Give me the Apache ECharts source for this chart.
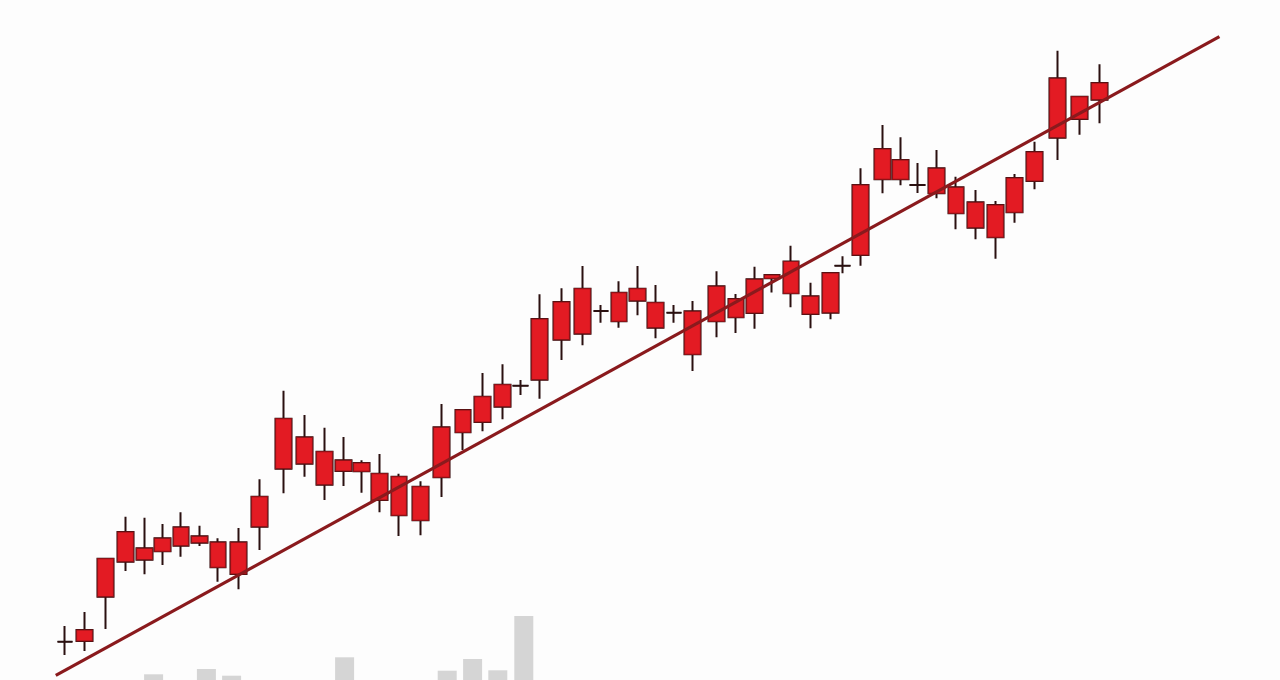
<!DOCTYPE html>
<html>
<head>
<meta charset="utf-8">
<script src="https://cdn.jsdelivr.net/npm/echarts@6/dist/echarts.min.js"></script>
<style>
html,body{margin:0;padding:0;background:#fdfdfd;}
#chart{width:1280px;height:680px;}
</style>
</head>
<body>
<div id="chart"></div>
<script>
// session positions of each candle (x axis units)
const sessions = [3.25,4.22,5.28,6.28,7.23,8.13,9.05,9.97,10.9,11.92,
  12.98,14.17,15.23,16.22,17.17,18.08,18.98,19.95,21.02,22.07,
  23.15,24.12,25.12,26.03,26.97,28.07,29.12,30.05,30.95,31.87,
  32.78,33.7,34.63,35.83,36.8,37.73,38.6,39.55,40.53,41.52,
  42.12,43.02,44.12,45.02,45.88,46.83,47.8,48.78,49.77,50.73,
  51.73,52.87,53.97,54.97];
// prices
const opens  = [3.83,3.9,8.33,11.83,12.03,12.87,13.43,13.73,11.27,10.6,
  15.33,21.13,21.63,19.53,20.9,20.87,18.0,16.47,15.97,20.27,
  24.77,25.8,27.33,29.43,30.03,34.03,34.63,36.9,35.87,37.93,
  35.23,36.73,32.57,35.87,36.27,36.7,40.17,38.67,36.6,36.73,
  41.43,42.5,50.07,50.07,49.5,48.67,46.67,45.23,44.27,46.77,
  49.9,54.23,56.1,58.03];
const closes = [3.83,5.0,12.13,14.8,13.17,14.17,15.27,14.37,13.77,13.77,
  18.33,26.13,24.27,22.83,21.97,21.7,20.63,20.33,19.33,25.27,
  27.0,28.33,29.53,29.43,36.1,37.8,39.13,36.9,38.73,39.13,
  37.73,36.73,36.87,39.37,38.1,40.07,40.5,41.85,38.37,40.7,
  41.43,49.5,53.1,52.0,49.5,51.17,49.27,47.77,47.5,50.2,
  52.8,60.17,58.33,59.7];
const lows   = [2.5,2.9,5.1,10.9,10.57,11.5,12.33,13.4,9.83,9.07,
  13.0,18.67,20.33,18.0,19.4,18.73,16.77,14.4,14.47,18.3,
  23.0,24.87,26.07,28.5,28.13,32.0,33.47,35.73,35.23,36.47,
  34.17,35.73,30.9,34.27,34.7,35.13,38.75,37.27,35.17,36.07,
  40.67,41.43,48.67,49.47,48.7,48.17,45.07,44.07,42.13,45.73,
  49.07,52.0,54.53,55.67];
const highs  = [5.4,6.8,12.2,16.33,16.23,15.6,16.77,15.43,14.17,15.2,
  20.07,28.93,26.5,25.23,24.3,21.97,22.6,20.63,19.87,27.6,
  27.1,30.7,31.57,30.0,38.57,39.17,41.4,37.5,39.87,41.4,
  39.5,37.5,37.9,40.87,38.6,41.33,40.57,43.43,39.73,40.8,
  42.38,51.17,55.5,54.27,51.7,53.0,50.33,49.0,47.9,50.6,
  53.83,62.93,58.43,61.57];
// volume-like grey bars
const volX = [7.68,10.32,11.58,17.23,22.36,23.63,24.89,26.19];
const volY = [0.57,1.1,0.43,2.27,0.93,2.1,0.97,6.4];
// trend line end points
const trendX = [2.79,60.97];
const trendY = [0.47,64.33];

const wickData = sessions.map((s,i)=>[s,opens[i],closes[i],lows[i],highs[i]]);
const bodyData = sessions.map((s,i)=>{
  const lo=Math.min(opens[i],closes[i]), hi=Math.max(opens[i],closes[i]);
  return [s,lo,hi,lo,hi];
});

const chart = echarts.init(document.getElementById('chart'), null, {renderer:'canvas'});
chart.setOption({
  backgroundColor:'#fdfdfd',
  animation:false,
  grid:{left:0,top:0,width:1280,height:680},
  xAxis:{type:'value',min:0,max:64,show:false,splitLine:{show:false}},
  yAxis:{type:'value',min:0,max:68,show:false,splitLine:{show:false}},
  series:[
    {
      type:'bar',
      data:volX.map((x,i)=>[x,volY[i]]),
      barWidth:19,
      itemStyle:{color:'#d5d5d5'},
      z:1
    },
    {
      type:'candlestick',
      data:wickData,
      encode:{x:0,y:[1,2,3,4]},
      barWidth:16,
      itemStyle:{color:'#e31b23',color0:'#e31b23',borderColor:'#2a1010',borderColor0:'#2a1010',borderColorDoji:'#2a1010',borderWidth:2},
      z:3
    },
    {
      type:'candlestick',
      data:bodyData,
      encode:{x:0,y:[1,2,3,4]},
      barWidth:16,
      itemStyle:{color:'#e31b23',color0:'#e31b23',borderColor:'#8c1217',borderColor0:'#8c1217',borderColorDoji:'#2a1010',borderWidth:1.2},
      z:4
    },
    {
      type:'line',
      data:trendX.map((x,i)=>[x,trendY[i]]),
      symbol:'none',
      lineStyle:{color:'#8a1a1d',width:3.2},
      z:5
    }
  ]
});
</script>
</body>
</html>
